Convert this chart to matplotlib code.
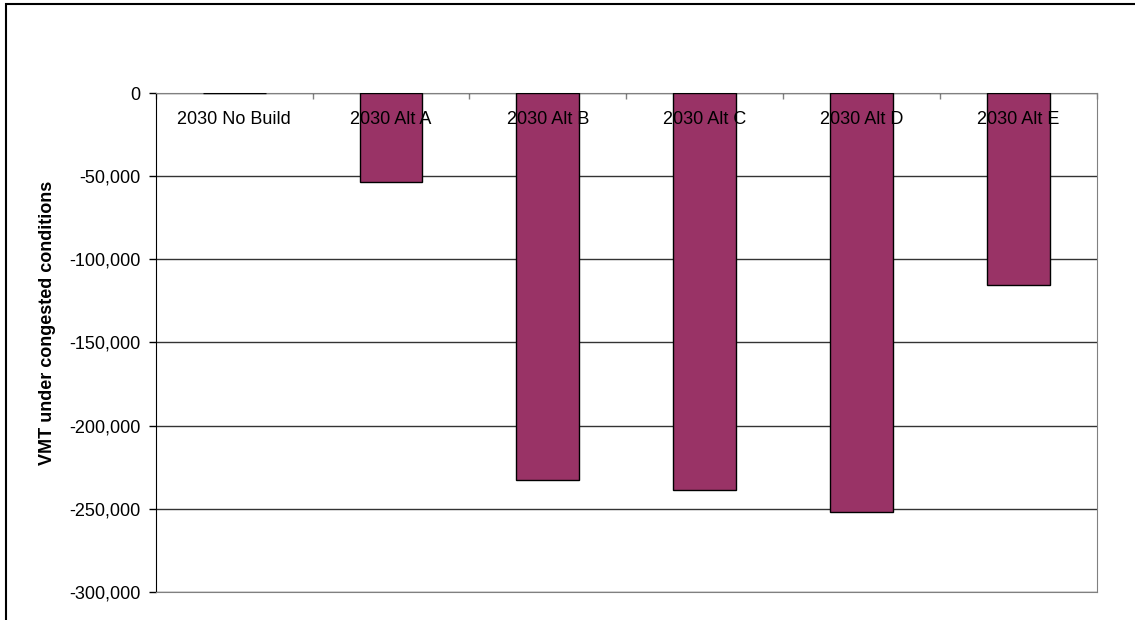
import matplotlib
matplotlib.use("Agg")
import matplotlib.pyplot as plt
import numpy as np
from matplotlib.ticker import FuncFormatter, FixedLocator
from matplotlib.patches import Rectangle

plt.rcParams['font.family'] = ['Liberation Sans', 'DejaVu Sans']

categories = ['2030 No Build', '2030 Alt A', '2030 Alt B', '2030 Alt C', '2030 Alt D', '2030 Alt E']
vmt_change = [0, -53600, -232500, -238500, -252000, -115500]
y_ticks = [0, -50000, -100000, -150000, -200000, -250000, -300000]

fig = plt.figure(figsize=(11.35, 6.2), dpi=100)
ax = fig.add_axes([0.1372, 0.0452, 0.8291, 0.8048])

x = np.arange(len(categories))
ax.bar(x, vmt_change, width=0.4, color='#993366', edgecolor='black', linewidth=1, zorder=3)

ax.set_xlim(-0.5, len(categories) - 0.5)
ax.set_ylim(-300000, 0)
ax.yaxis.set_major_locator(FixedLocator(y_ticks))
ax.yaxis.set_major_formatter(FuncFormatter(lambda v, p: '{:,.0f}'.format(v).replace('\u2212', '-')))
ax.tick_params(axis='y', direction='out', length=4.8, width=1, pad=6, labelsize=13)
ax.grid(axis='y', color='#333333', linewidth=1, zorder=0)

# category axis sits at zero (top), boundary ticks pointing down
ax.xaxis.tick_top()
ax.set_xticks(np.arange(len(categories) + 1) - 0.5)
ax.set_xticklabels([])
ax.tick_params(axis='x', direction='in', length=4.5, width=1, color='#808080')
for i, lab in enumerate(categories):
    ax.annotate(lab, xy=(i, 0), xytext=(0, -26), textcoords='offset pixels',
                ha='center', va='center', fontsize=13, zorder=5)

ax.spines['left'].set_color('black')
for s in ['top', 'right', 'bottom']:
    ax.spines[s].set_color('#808080')

ax.set_ylabel('VMT under congested conditions', fontsize=13, fontweight='bold')
ax.yaxis.set_label_coords(-0.106, 0.539)

# chart area border
fig.patches.append(Rectangle((6 / 1135, -0.1), 1.2, 0.1 + 1 - 4 / 620, transform=fig.transFigure,
                             fill=False, edgecolor='black', linewidth=1.5))

fig.savefig('out.png', dpi=100)
